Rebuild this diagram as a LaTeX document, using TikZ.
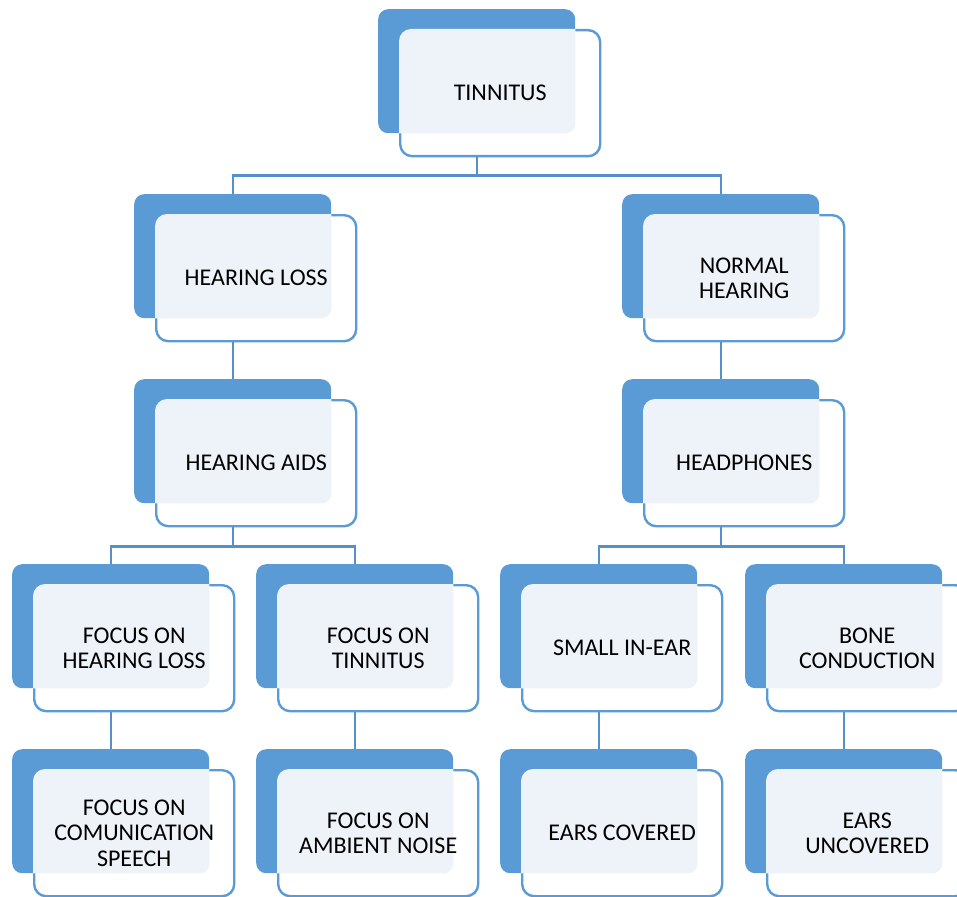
\documentclass[tikz,border=0pt]{standalone}
\usepackage{fontspec}
\setmainfont{Carlito}
\usetikzlibrary{calc}
\definecolor{backblue}{HTML}{5B9BD5}
\definecolor{lightfill}{HTML}{EEF3FA}
\definecolor{linkblue}{HTML}{5690CC}
\tikzset{
 backbox/.style={fill=backblue, draw=none, rounded corners=10pt, minimum width=197pt, minimum height=124pt, inner sep=0pt, anchor=north west},
 frontbox/.style={fill=white, draw=backblue, line width=2.4pt, rounded corners=12pt, minimum width=200pt, minimum height=126pt, inner sep=0pt, anchor=north west},
 boxlabel/.style={align=center, font=\fontsize{24}{25.5}\selectfont, text=black, inner sep=0pt},
 link/.style={draw=linkblue, line width=2.4pt},
}
\newcommand\blk[4]{%
 \node[backbox] (#1-b) at (#2,#3) {};
 \node[frontbox] (#1) at ($(#1-b.north west)+(21,20)$) {};
 \begin{scope}
 \clip[rounded corners=10pt] (#1-b.south west) rectangle (#1-b.north east);
 \fill[lightfill, rounded corners=12pt] (#1.south west) rectangle (#1.north east);
 \end{scope}
 \node[boxlabel] (#1-t) at (#1.center) {#4};
}
\begin{document}
\begin{tikzpicture}[x=1pt,y=-1pt]
\useasboundingbox (0,0) rectangle (957,896);
\clip (0,0) rectangle (957,896);
\blk{tin}{378}{9}{TINNITUS}
\blk{hl}{134}{194}{HEARING LOSS}
\blk{nh}{622}{194}{NORMAL\\HEARING}
\blk{ha}{134}{379}{HEARING AIDS}
\blk{hp}{622}{379}{HEADPHONES}
\blk{fhl}{12}{564}{FOCUS ON\\HEARING LOSS}
\blk{ft}{256}{564}{FOCUS ON\\TINNITUS}
\blk{sie}{500}{564}{SMALL IN-EAR}
\blk{bc}{745}{564}{BONE\\CONDUCTION}
\blk{fcs}{12}{749}{FOCUS ON\\COMUNICATION\\SPEECH}
\blk{fan}{256}{749}{FOCUS ON\\AMBIENT NOISE}
\blk{ec}{500}{749}{EARS COVERED}
\blk{eu}{745}{749}{EARS\\UNCOVERED}
% connectors
\coordinate (j1) at ($(tin.south)+(0,18)$);
\draw[link] (tin-b.center |- tin.south) -- (tin-b.center |- j1) -| (hl-b.north);
\draw[link] (tin-b.center |- j1) -| (nh-b.north);
\draw[link] (hl-b.center |- hl.south) -- (ha-b.north);
\draw[link] (nh-b.center |- nh.south) -- (hp-b.north);
\coordinate (j2) at ($(ha.south)+(0,19)$);
\draw[link] (ha-b.center |- ha.south) -- (ha-b.center |- j2) -| (fhl-b.north);
\draw[link] (ha-b.center |- j2) -| (ft-b.north);
\coordinate (j3) at ($(hp.south)+(0,19)$);
\draw[link] (hp-b.center |- hp.south) -- (hp-b.center |- j3) -| (sie-b.north);
\draw[link] (hp-b.center |- j3) -| (bc-b.north);
\draw[link] (fhl-b.center |- fhl.south) -- (fcs-b.north);
\draw[link] (ft-b.center |- ft.south) -- (fan-b.north);
\draw[link] (sie-b.center |- sie.south) -- (ec-b.north);
\draw[link] (bc-b.center |- bc.south) -- (eu-b.north);
\end{tikzpicture}
\end{document}
